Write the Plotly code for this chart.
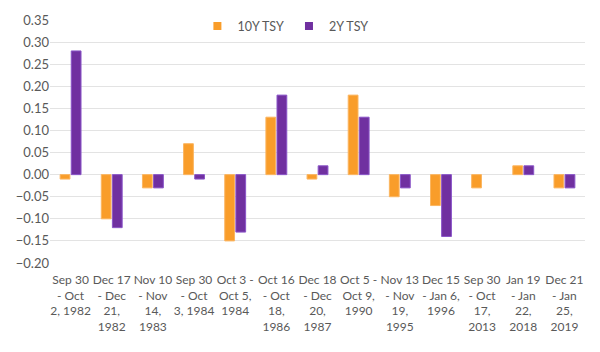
import plotly.graph_objects as go

categories = [
    "Sep 30<br>- Oct<br>2, 1982",
    "Dec 17<br>- Dec<br>21,<br>1982",
    "Nov 10<br>- Nov<br>14,<br>1983",
    "Sep 30<br>- Oct<br>3, 1984",
    "Oct 3 -<br>Oct 5,<br>1984",
    "Oct 16<br>- Oct<br>18,<br>1986",
    "Dec 18<br>- Dec<br>20,<br>1987",
    "Oct 5 -<br>Oct 9,<br>1990",
    "Nov 13<br>- Nov<br>19,<br>1995",
    "Dec 15<br>- Jan 6,<br>1996",
    "Sep 30<br>- Oct<br>17,<br>2013",
    "Jan 19<br>- Jan<br>22,<br>2018",
    "Dec 21<br>- Jan<br>25,<br>2019",
]
ten_y = [-0.01, -0.10, -0.03, 0.07, -0.15, 0.13, -0.01, 0.18, -0.05, -0.07, -0.03, 0.02, -0.03]
two_y = [0.28, -0.12, -0.03, -0.01, -0.13, 0.18, 0.02, 0.13, -0.03, -0.14, None, 0.02, -0.03]
tick_vals = [0.35, 0.30, 0.25, 0.20, 0.15, 0.10, 0.05, 0.00, -0.05, -0.10, -0.15, -0.20]

ORANGE = "#F99D2A"
PURPLE = "#7030A0"

fig = go.Figure()
fig.add_trace(go.Bar(x=categories, y=ten_y, name="10Y TSY", showlegend=False,
                     marker=dict(color=ORANGE, line=dict(width=1, color="#FBB560"))))
fig.add_trace(go.Bar(x=categories, y=two_y, name="2Y TSY", showlegend=False,
                     marker=dict(color=PURPLE, line=dict(width=1, color="#8A55C8"))))
# legend entries with small square symbols
for name, col in [("10Y TSY", ORANGE), ("2Y TSY", PURPLE)]:
    fig.add_trace(go.Scatter(x=[None], y=[None], mode="markers", name=name,
                             marker=dict(symbol="square", size=8, color=col)))

fig.update_layout(
    width=600, height=352,
    margin=dict(l=50, r=15, t=15, b=89),
    paper_bgcolor="white", plot_bgcolor="white",
    font=dict(family="Lato", size=13, color="#595959"),
    barmode="group", bargap=0.46, bargroupgap=0.12,
    showlegend=True,
    legend=dict(orientation="h", x=0.44, xanchor="center", y=1.035, yanchor="top",
                font=dict(size=12.5, color="#595959"), itemwidth=30,
                tracegroupgap=0, bgcolor="rgba(0,0,0,0)"),
    xaxis=dict(showgrid=False, showline=False, ticks="", tickangle=0,
               ticklabelstandoff=8,
               tickfont=dict(size=12, color="#595959")),
    yaxis=dict(range=[-0.20, 0.35], tickvals=tick_vals,
               tickformat=".2f", showgrid=True, gridcolor="#E3E3E3", gridwidth=1,
               zeroline=False, showline=False, ticks="",
               tickfont=dict(size=13, color="#595959")),
)

fig.write_html("out.html")
